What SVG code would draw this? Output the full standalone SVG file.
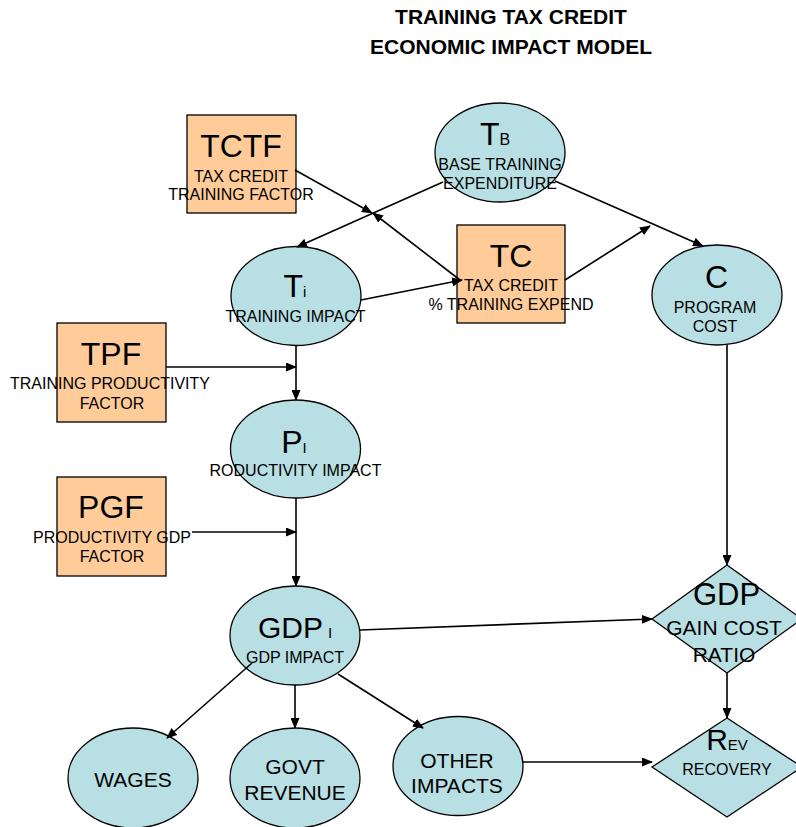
<svg xmlns="http://www.w3.org/2000/svg" width="796" height="827" viewBox="0 0 796 827">
<style>
text{font-family:"Liberation Sans",Arial,sans-serif;fill:#000;text-anchor:middle}
.ell{fill:#B8DFE3;stroke:#000;stroke-width:1.3}
.box{fill:#FFCC99;stroke:#000;stroke-width:1.3}
.big{font-size:32px}
.sub{font-size:15px;text-anchor:start}
.sm{font-size:16px}
.md{font-size:21px}
.title{font-size:21px;font-weight:bold}
#connectors line{stroke:#000;stroke-width:1.6;marker-end:url(#arr)}
</style>
<defs>
<marker id="arr" markerUnits="userSpaceOnUse" markerWidth="11" markerHeight="9" refX="10" refY="4.5" orient="auto">
<path d="M0,0 L11,4.5 L0,9 z" fill="#000"/>
</marker>
</defs>
<rect width="796" height="827" fill="#fff"/>
<g id="title">
<text class="title" x="511" y="24">TRAINING TAX CREDIT</text>
<text class="title" x="511" y="54">ECONOMIC IMPACT MODEL</text>
</g>
<g id="TCTF">
<rect class="box" x="187" y="115" width="109" height="98"/>
<text class="big" x="241" y="157">TCTF</text>
<text class="sm" x="241" y="182">TAX CREDIT</text>
<text class="sm" x="241" y="200">TRAINING FACTOR</text>
</g>
<g id="TB">
<ellipse class="ell" cx="500" cy="152.5" rx="65" ry="49.5"/>
<text class="big" x="495" y="145">T<tspan font-size="16px">B</tspan></text>
<text class="sm" x="500" y="170">BASE TRAINING</text>
<text class="sm" x="500" y="189">EXPENDITURE</text>
</g>
<g id="TC">
<rect class="box" x="457" y="225" width="108" height="98"/>
<text class="big" x="511" y="267">TC</text>
<text class="sm" x="511" y="291">TAX CREDIT</text>
<text class="sm" x="511" y="310">% TRAINING EXPEND</text>
</g>
<g id="Ti">
<ellipse class="ell" cx="296" cy="296" rx="65" ry="49.5"/>
<text class="big" x="295" y="297">T<tspan font-size="15px">i</tspan></text>
<text class="sm" x="295.5" y="322">TRAINING IMPACT</text>
</g>
<g id="C">
<ellipse class="ell" cx="717" cy="295" rx="65" ry="50"/>
<text class="big" x="716.5" y="288">C</text>
<text class="sm" x="715" y="313">PROGRAM</text>
<text class="sm" x="715" y="332">COST</text>
</g>
<g id="TPF">
<rect class="box" x="57" y="323" width="109" height="99"/>
<text class="big" x="111" y="365">TPF</text>
<text class="sm" x="110" y="389">TRAINING PRODUCTIVITY</text>
<text class="sm" x="112" y="409">FACTOR</text>
</g>
<g id="PI">
<ellipse class="ell" cx="295.5" cy="449" rx="65" ry="49"/>
<text class="big" x="294" y="453">P<tspan font-size="15px">I</tspan></text>
<text class="sm" x="295.5" y="476">RODUCTIVITY IMPACT</text>
</g>
<g id="PGF">
<rect class="box" x="57" y="477" width="109" height="99"/>
<text class="big" x="111" y="518">PGF</text>
<text class="sm" x="112" y="543">PRODUCTIVITY GDP</text>
<text class="sm" x="112" y="562">FACTOR</text>
</g>
<g id="GDPI">
<ellipse class="ell" cx="295" cy="635.5" rx="65" ry="49.5"/>
<text x="295" y="638" font-size="30px">GDP<tspan font-size="15px" dx="5">I</tspan></text>
<text class="sm" x="295" y="663">GDP IMPACT</text>
</g>
<g id="WAGES">
<ellipse class="ell" cx="133" cy="778" rx="65" ry="50"/>
<text class="md" x="133" y="787">WAGES</text>
</g>
<g id="GOVT">
<ellipse class="ell" cx="295" cy="778" rx="65" ry="50"/>
<text class="md" x="295" y="774">GOVT</text>
<text class="md" x="295" y="800">REVENUE</text>
</g>
<g id="OTHER">
<ellipse class="ell" cx="458" cy="766" rx="65" ry="49.5"/>
<text class="md" x="457" y="768">OTHER</text>
<text class="md" x="457" y="793">IMPACTS</text>
</g>
<g id="GDPRATIO">
<polygon class="ell" points="727,565 802,619 727,673 652,619"/>
<text x="726.5" y="605" font-size="31px">GDP</text>
<text class="md" x="724" y="635">GAIN COST</text>
<text class="md" x="724" y="662">RATIO</text>
</g>
<g id="REV">
<polygon class="ell" points="727,718 802,767 727,817 652,767"/>
<text x="727" y="750" font-size="30px">R<tspan font-size="15px">EV</tspan></text>
<text class="sm" x="727" y="775">RECOVERY</text>
</g>
<g id="connectors">
<line x1="295" y1="170" x2="372" y2="213"/>
<line x1="443" y1="182" x2="297" y2="247"/>
<line x1="460" y1="280" x2="373" y2="213"/>
<line x1="361" y1="300" x2="462" y2="280"/>
<line x1="555" y1="181" x2="703" y2="246"/>
<line x1="565" y1="280" x2="650" y2="226"/>
<line x1="296" y1="346" x2="296" y2="400"/>
<line x1="166" y1="367" x2="296" y2="367"/>
<line x1="296" y1="498" x2="296" y2="586"/>
<line x1="192" y1="532" x2="296" y2="532"/>
<line x1="727" y1="345" x2="727" y2="565"/>
<line x1="360" y1="630" x2="652" y2="619"/>
<line x1="727" y1="673" x2="727" y2="718"/>
<line x1="523" y1="762" x2="652" y2="762"/>
<line x1="252" y1="663" x2="167" y2="738"/>
<line x1="295" y1="685" x2="295" y2="728"/>
<line x1="338" y1="674" x2="423" y2="728"/>
</g>
</svg>
